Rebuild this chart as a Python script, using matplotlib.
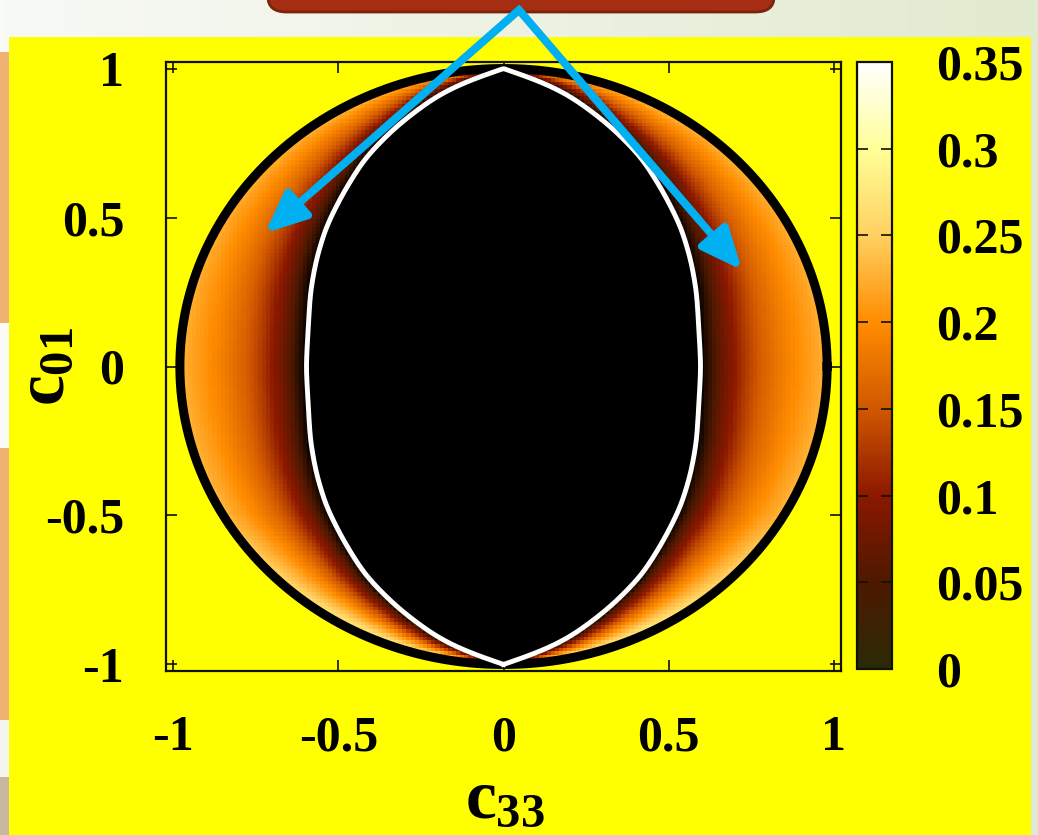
import numpy as np
import matplotlib
matplotlib.use('Agg')
import matplotlib.pyplot as plt
from matplotlib.colors import LinearSegmentedColormap
from matplotlib.patches import Rectangle, FancyBboxPatch, FancyArrowPatch
from matplotlib.lines import Line2D

plt.rcParams['font.family'] = ['Liberation Serif', 'DejaVu Serif']
plt.rcParams['font.weight'] = 'bold'
plt.rcParams['mathtext.fontset'] = 'custom'
plt.rcParams['mathtext.rm'] = 'Liberation Serif:bold'
plt.rcParams['mathtext.it'] = 'Liberation Serif:bold'
plt.rcParams['mathtext.bf'] = 'Liberation Serif:bold'

# --- values ---
# white lens curve: half-width in c33 against |c01|
lens_y = [0.0, 0.25, 0.36, 0.47, 0.58, 0.70, 0.81, 0.92, 0.95, 0.975, 1.0]
lens_w = [0.598, 0.585, 0.567, 0.537, 0.487, 0.42, 0.322, 0.19, 0.13, 0.08, 0.0]
# outer black boundary (ellipse semi-axes)
outer_a = 0.98
outer_b = 1.0
# colour value across the band, t=0 at the lens, t=1 at the outer boundary
band_t = [0.0, 0.08, 0.2, 0.35, 0.5, 0.65, 0.8, 0.92, 1.0]
band_v = [0.0, 0.035, 0.08, 0.125, 0.16, 0.185, 0.205, 0.218, 0.23]
# brightening of the band towards top / bottom
fac_y = [-1.0, -0.9, -0.75, -0.5, 0.0, 0.5, 0.75, 0.9, 1.0]
fac_v = [1.3, 1.3, 1.18, 1.03, 1.0, 1.0, 1.02, 1.05, 1.05]

xticks = [-1, -0.5, 0, 0.5, 1]
yticks = [-1, -0.5, 0, 0.5, 1]
tick_labels = ['-1', '-0.5', '0', '0.5', '1']
cb_ticks = [0, 0.05, 0.1, 0.15, 0.2, 0.25, 0.3, 0.35]
cb_labels = ['0', '0.05', '0.1', '0.15', '0.2', '0.25', '0.3', '0.35']
cmap_cols = ['#000000', '#4e1800', '#8c1800', '#d05800', '#ff8c00',
             '#ffd060', '#ffff98', '#ffffff']

# smooth lens outline (odd reflection past the tips keeps them pointed)
yf = np.linspace(-1.2, 1.2, 2401)
ay = np.abs(yf)
wf = np.where(ay <= 1, np.interp(ay, lens_y, lens_w),
              -np.interp(2 - ay, lens_y, lens_w))
kx = np.arange(-150, 151) * 0.001
kern = np.exp(-0.5 * (kx / 0.035) ** 2)
ws = np.convolve(wf, kern / kern.sum(), mode='same')
keep = ay <= 1
yy = yf[keep]
ww = np.clip(ws[keep], 0, None)

# build the field on a grid
grid = np.linspace(-1, 1, 161)
X, Y = np.meshgrid(grid, grid)
wl = np.interp(Y, yy, ww)
wo = outer_a * np.sqrt(np.clip(1 - (Y / outer_b) ** 2, 0, None))
t = (np.abs(X) - wl) / np.maximum(wo - wl, 1e-6)
Z = np.interp(t, band_t, band_v) * np.interp(Y, fac_y, fac_v)
Z[np.abs(X) <= wl] = 0.0
Z[(X / outer_a) ** 2 + (Y / outer_b) ** 2 > 1] = np.nan

cmap = LinearSegmentedColormap.from_list(
    'hot2', list(zip(np.array(cb_ticks) / 0.35, cmap_cols)))
cb_cols = ['#2a2a06'] + cmap_cols[1:]
cb_cmap = LinearSegmentedColormap.from_list(
    'hot2cb', list(zip(np.array(cb_ticks) / 0.35, cb_cols)))

W, H = 1038, 835
fig = plt.figure(figsize=(W / 100, H / 100), dpi=100)


def fx(px):
    return px / W


def fy(py):
    return 1 - py / H


# slide background
bg = fig.add_axes([0, 0, 1, 1], zorder=-10)
grad = np.linspace(0, 1, 256)[None, :]
bg.imshow(grad, aspect='auto', extent=[0, 1, 0, 1],
          cmap=LinearSegmentedColormap.from_list('bg', ['#f8faf6', '#e2eacf']))
bg.set_xlim(0, 1)
bg.set_ylim(0, 1)
bg.axis('off')
for y0, y1, c in [(52, 323, '#f0b272'), (323, 448, '#fbfbf8'), (448, 720, '#f0b272'),
                  (720, 777, '#f4f5ef'), (777, 835, '#c8b89e')]:
    bg.add_patch(Rectangle((0, fy(y1)), fx(9), fy(y0) - fy(y1), color=c, lw=0))
bg.add_patch(Rectangle((fx(9), 0), fx(1031) - fx(9), fy(37), color='#ffff00', lw=0))
bg.add_patch(Rectangle((fx(1031), 0), 1 - fx(1031), fy(37), color='#e2e8d4', lw=0))
bg.add_patch(FancyBboxPatch((fx(268), fy(12)), fx(506), fy(-30) - fy(12),
                            boxstyle='round,pad=0,rounding_size=0.018',
                            fc='#a52d12', ec='#7b230b', lw=2))

# main heatmap
ax = fig.add_axes([fx(166), fy(671), fx(841) - fx(166), fy(62) - fy(671)])
ax.set_facecolor('#ffff00')
ax.pcolormesh(grid, grid, Z, cmap=cmap, vmin=0, vmax=0.35, shading='nearest')
th = np.linspace(0, 2 * np.pi, 500)
ax.plot(outer_a * np.cos(th), outer_b * np.sin(th), color='black', lw=6.5)
ax.plot(np.r_[-ww, ww[::-1]], np.r_[yy, yy[::-1]], color='white', lw=3.5)
ax.set_xlim(-1.022, 1.022)
ax.set_ylim(-1.022, 1.022)
ax.set_xticks(xticks)
ax.set_yticks(yticks)
ax.set_xticklabels(tick_labels)
ax.set_yticklabels(tick_labels)
ax.tick_params(direction='in', top=True, right=True, length=8, width=1.2,
               labelsize=36, color='#111100')
ax.tick_params(axis='x', pad=32)
ax.tick_params(axis='y', pad=30)
for s in ax.spines.values():
    s.set_linewidth(1.6)
    s.set_color('#111100')

fig.text(fx(505), fy(800), r'$c_{33}$', fontsize=50, ha='center', va='center')
fig.text(fx(46), fy(367), r'$c_{01}$', fontsize=50, ha='center', va='center',
         rotation=90)

# colour bar
cax = fig.add_axes([fx(857), fy(669), fx(892) - fx(857), fy(62) - fy(669)])
sm = plt.cm.ScalarMappable(cmap=cb_cmap, norm=plt.Normalize(0, 0.35))
cb = fig.colorbar(sm, cax=cax, ticks=cb_ticks)
cb.ax.set_yticklabels(cb_labels)
cb.ax.tick_params(direction='in', left=True, right=True, length=8, width=1.2,
                  labelsize=36, pad=32, color='#111100')
cb.outline.set_linewidth(1.6)
cb.outline.set_edgecolor('#111100')

# blue arrows
apex = (519, 10)
tips = [(265, 233), (742, 270)]
blue = '#00b0f0'
pts = []
for tp in tips:
    pts.append((apex[0] + 0.8 * (tp[0] - apex[0]), apex[1] + 0.8 * (tp[1] - apex[1])))
fig.add_artist(Line2D([fx(pts[0][0]), fx(apex[0]), fx(pts[1][0])],
                      [fy(pts[0][1]), fy(apex[1]), fy(pts[1][1])],
                      transform=fig.transFigure, color=blue, lw=5.5,
                      solid_joinstyle='miter', zorder=20))
for tp in tips:
    fig.add_artist(FancyArrowPatch((fx(apex[0]), fy(apex[1])), (fx(tp[0]), fy(tp[1])),
                                   transform=fig.transFigure,
                                   arrowstyle='-|>,head_length=25,head_width=11',
                                   color=blue, lw=5.5, shrinkA=0, shrinkB=0,
                                   zorder=20))

fig.savefig('out.png', dpi=100)
